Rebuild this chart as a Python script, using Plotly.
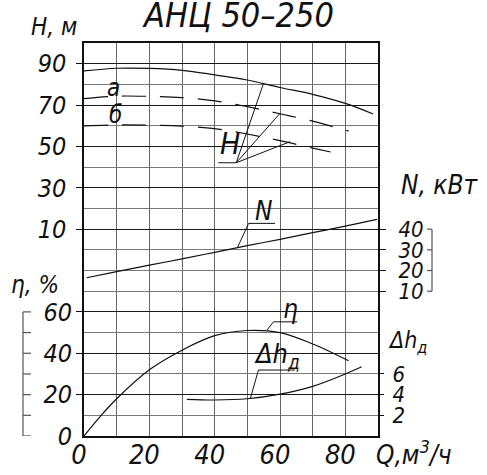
import plotly.graph_objects as go

W, H = 487, 475

# ---------------- data ----------------
q_ticks = [0, 20, 40, 60, 80]

q_head = [0, 10, 20, 30, 40, 50, 60, 70, 80, 88.5]
head = [86.5, 87.8, 87.7, 86.8, 84.6, 82.1, 78.5, 75.2, 70.8, 65.7]

q_head_a = [0, 10, 20, 30, 40, 50, 60, 70, 81]
head_a = [73.1, 74.3, 74.2, 73.6, 72.0, 69.2, 65.8, 62.2, 57.4]

q_head_b = [0, 10, 20, 30, 40, 50, 60, 70, 75.5]
head_b = [59.9, 60.4, 60.3, 59.8, 58.6, 56.0, 52.8, 49.2, 47.3]

q_power = [0.8, 10, 20, 30, 40, 50, 60, 70, 80, 89.7]
power = [16.5, 19.5, 22.6, 25.6, 28.8, 32.0, 35.1, 38.3, 41.5, 44.7]

q_eff = [0, 5, 10, 20, 30, 40, 50, 60, 70, 81]
eff = [0, 9.5, 18, 32, 41.5, 48.5, 51, 50, 44.5, 36.4]

q_npsh = [31.5, 40, 50, 60, 70, 80, 85]
npsh = [3.55, 3.48, 3.6, 4.05, 4.8, 6.0, 6.7]

h_ticks = [10, 30, 50, 70, 90]
eff_ticks = [0, 20, 40, 60]
eff_bracket = [0, 10, 20, 30, 40, 50, 60]
power_ticks = [10, 20, 30, 40]
npsh_ticks = [2, 4, 6]

# leader lines (callouts) in data units
lead_h_q = [41.1, 46.6, 54.9, None, 46.6, 60.0, None, 46.6, 63.1]
lead_h_v = [42.1, 42.1, 80.2, None, 42.1, 66.0, None, 42.1, 52.3]
lead_n_q = [58.5, 50.4, 47.0]
lead_n_v = [42.8, 42.8, 31.2]
lead_e_q = [65.3, 58.0, 56.0]
lead_e_v = [55.2, 55.2, 51.2]
lead_d_q = [64.6, 53.4, 50.9]
lead_d_v = [6.38, 6.38, 3.6]

# ---------------- layout geometry ----------------
X0, X1 = 84, 378      # plot left/right px
Y0, Y1 = 43, 436      # plot top/bottom px


def fx(px):
    return px / W


def fy(py):
    return 1 - py / H


ytop, ybot = fy(Y0), fy(Y1)

FONT = "DejaVu Sans Condensed, DejaVu Sans, sans-serif"


def f(size, color="#111"):
    return dict(family=FONT, size=size, color=color, style="italic")


fig = go.Figure()
line = dict(color="#111", width=1.2)

fig.add_trace(go.Scatter(x=q_head, y=head, mode="lines", line=dict(line, shape="spline"),
                         yaxis="y", showlegend=False))
fig.add_trace(go.Scatter(x=q_head_a, y=head_a, mode="lines",
                         line=dict(color="#111", width=1.2, shape="spline", dash="24px,14px"),
                         yaxis="y", showlegend=False))
fig.add_trace(go.Scatter(x=q_head_b, y=head_b, mode="lines",
                         line=dict(color="#111", width=1.2, shape="spline", dash="24px,14px"),
                         yaxis="y", showlegend=False))
fig.add_trace(go.Scatter(x=q_power, y=power, mode="lines", line=dict(line, shape="spline"),
                         yaxis="y4", showlegend=False))
fig.add_trace(go.Scatter(x=q_eff, y=eff, mode="lines", line=dict(line, shape="spline"),
                         yaxis="y2", showlegend=False))
fig.add_trace(go.Scatter(x=q_npsh, y=npsh, mode="lines", line=dict(line, shape="spline"),
                         yaxis="y3", showlegend=False))

lead = dict(color="#111", width=1)
fig.add_trace(go.Scatter(x=lead_h_q, y=lead_h_v, mode="lines", line=lead, yaxis="y", showlegend=False))
fig.add_trace(go.Scatter(x=lead_n_q, y=lead_n_v, mode="lines", line=lead, yaxis="y4", showlegend=False))
fig.add_trace(go.Scatter(x=lead_e_q, y=lead_e_v, mode="lines", line=lead, yaxis="y2", showlegend=False))
fig.add_trace(go.Scatter(x=lead_d_q, y=lead_d_v, mode="lines", line=lead, yaxis="y3", showlegend=False))

GRID_MAJOR = "#1a1a1a"
GRID_MINOR = "#7a7a7a"

fig.update_layout(
    width=W, height=H,
    margin=dict(l=0, r=0, t=0, b=0, pad=0, autoexpand=False),
    paper_bgcolor="white", plot_bgcolor="white",
    showlegend=False,
    xaxis=dict(
        domain=[fx(X0), fx(X1)], range=[0, 90], automargin=False,
        tickvals=q_ticks, ticktext=[str(v) for v in q_ticks],
        ticks="", showgrid=True, gridcolor="#666", gridwidth=1,
        minor=dict(dtick=10, tick0=0, showgrid=True, gridcolor="#666", gridwidth=1),
        showline=True, linecolor="#111", linewidth=1.5, mirror=True,
        zeroline=False, tickfont=f(27), ticklabelshift=-5, ticklabelstandoff=-6,
    ),
    yaxis=dict(  # head H, m
        domain=[ybot, ytop], range=[-90, 100], anchor="x", side="left", automargin=False,
        tickvals=[-70, -50, -30] + h_ticks,
        ticktext=["", "", ""] + [str(v) for v in h_ticks],
        ticks="outside", ticklen=6, tickcolor="#111", tickwidth=1.2,
        showgrid=True, gridcolor=GRID_MAJOR, gridwidth=1,
        minor=dict(dtick=10, tick0=0, showgrid=True, gridcolor=GRID_MINOR, gridwidth=1),
        showline=True, linecolor="#111", linewidth=1.5, mirror=True,
        zeroline=False, tickfont=f(25), ticklabelstandoff=5,
    ),
    yaxis2=dict(  # efficiency
        overlaying="y", anchor="x", side="left", range=[0, 190], automargin=False,
        tickvals=eff_ticks, ticktext=[str(v) for v in eff_ticks],
        ticks="", showgrid=False, zeroline=False, showline=False,
        tickfont=f(25), ticklabelstandoff=11,
    ),
    yaxis3=dict(  # NPSH
        overlaying="y", anchor="x", side="right", range=[0, 38], automargin=False,
        tickvals=npsh_ticks, ticktext=[str(v) for v in npsh_ticks],
        ticks="outside", ticklen=5, tickcolor="#111",
        showgrid=False, zeroline=False, showline=False,
        tickfont=f(22), ticklabelstandoff=4,
    ),
    yaxis4=dict(  # power
        overlaying="y", anchor="x", side="right", range=[-60, 130], automargin=False,
        tickvals=power_ticks, ticktext=[str(v) for v in power_ticks],
        ticks="outside", ticklen=7, tickcolor="#111",
        showgrid=False, zeroline=False, showline=False,
        tickfont=f(22), ticklabelstandoff=8,
    ),
)

# bracket scales (decorative), placed through the value axes
BR = dict(color="#555", width=1.2)
fig.add_shape(type="line", xref="paper", yref="y2", x0=fx(23), x1=fx(23),
              y0=eff_bracket[0], y1=eff_bracket[-1], line=BR)
for v in eff_bracket:
    fig.add_shape(type="line", xref="paper", yref="y2", x0=fx(23), x1=fx(31), y0=v, y1=v, line=BR)
fig.add_shape(type="line", xref="paper", yref="y4", x0=fx(432), x1=fx(432),
              y0=power_ticks[0], y1=power_ticks[-1], line=BR)
for v in power_ticks:
    fig.add_shape(type="line", xref="paper", yref="y4", x0=fx(427), x1=fx(432), y0=v, y1=v, line=BR)

ann = [
    ("АНЦ 50–250", 238, 15, 34),
    ("H, м", 54, 27, 24),
    ("N, кВт", 440, 185, 26),
    ("η, %", 35, 285, 24),
    ("Q,м<sup>3</sup>/ч", 414, 453, 26),
    ("Δh<sub>д</sub>", 407, 342, 23),
    ("а", 113, 88, 24),
    ("б", 115, 115, 24),
    ("H", 230, 143, 30),
    ("N", 264, 211, 26),
    ("η", 290, 309, 26),
    ("Δh<sub>д</sub>", 277, 355, 27),
]
for text, x, y, s in ann:
    fig.add_annotation(text=text, x=fx(x), y=fy(y), xref="paper", yref="paper",
                       xanchor="center", yanchor="middle", showarrow=False, font=f(s))

fig.write_html("out.html", config={"displayModeBar": False},
               post_script="document.body.style.margin='0';document.body.style.padding='0';")
